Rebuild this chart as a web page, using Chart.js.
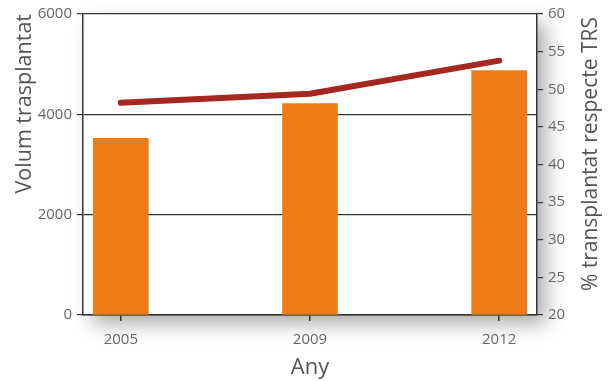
<!DOCTYPE html>
<html>
<head>
<meta charset="utf-8">
<script src="https://cdn.jsdelivr.net/npm/chart.js@4"></script>
<style>
  html, body { margin: 0; padding: 0; background: #fff; }
  #wrap { width: 611px; height: 381px; }
</style>
</head>
<body>
<div id="wrap"><canvas id="c" width="611" height="381"></canvas></div>
<script>
// Transplant volume per year and share relative to TRS
const years = ['2005', '2009', '2012'];
const volume = [3520, 4215, 4870];
const pctTRS = [48.2, 49.4, 53.8];
const volumeTicks = [0, 2000, 4000, 6000];
const pctTicks = [20, 25, 30, 35, 40, 45, 50, 55, 60];

const leftTitle = 'Volum trasplantat';
const rightTitle = '% transplantat respecte TRS';
const xTitle = 'Any';

const FONT = "'Open Sans', 'DejaVu Sans', sans-serif";
const TICK_COLOR = '#666666';
const TITLE_COLOR = '#555555';

// Soft drop shadow behind the plotting frame
const frameShadow = {
  id: 'frameShadow',
  beforeDraw(chart) {
    const { ctx, chartArea: a } = chart;
    ctx.save();
    ctx.fillStyle = '#ffffff';
    ctx.shadowColor = 'rgba(0,0,0,0.32)';
    ctx.shadowBlur = 18;
    ctx.shadowOffsetX = 9;
    ctx.shadowOffsetY = 9;
    ctx.fillRect(a.left, a.top, a.right - a.left, a.bottom - a.top);
    ctx.restore();
  }
};

// Right axis title, reading bottom-to-top like the left one
const rightAxisTitle = {
  id: 'rightAxisTitle',
  afterDraw(chart) {
    const { ctx, chartArea: a } = chart;
    ctx.save();
    ctx.translate(591, a.top + 3);
    ctx.rotate(-Math.PI / 2);
    ctx.font = '21px ' + FONT;
    ctx.fillStyle = TITLE_COLOR;
    ctx.textAlign = 'right';
    ctx.textBaseline = 'middle';
    ctx.fillText(rightTitle, 0, 0);
    ctx.restore();
  }
};

const pts = (arr) => arr.map((v, i) => ({ x: i, y: v }));

new Chart(document.getElementById('c'), {
  data: {
    datasets: [
      {
        type: 'line',
        data: pts(pctTRS),
        yAxisID: 'y2',
        borderColor: '#a52820',
        borderWidth: 6,
        borderCapStyle: 'round',
        borderJoinStyle: 'round',
        pointRadius: 0,
        tension: 0,
        order: 0
      },
      {
        type: 'bar',
        data: pts(volume),
        yAxisID: 'y',
        backgroundColor: '#ec7c13',
        barThickness: 55,
        order: 1
      }
    ]
  },
  options: {
    responsive: false,
    animation: false,
    devicePixelRatio: 1,
    layout: { padding: { top: 14, left: 0, right: 0, bottom: 0 } },
    plugins: { legend: { display: false }, tooltip: { enabled: false } },
    scales: {
      x: {
        type: 'linear',
        min: -0.2,
        max: 2.2,
        offset: false,
        afterBuildTicks(s) { s.ticks = years.map((_, i) => ({ value: i })); },
        afterFit(s) { s.height = 66; },
        ticks: {
          callback: (v) => years[v],
          color: TICK_COLOR,
          font: { family: FONT, size: 15 },
          padding: 10,
          maxRotation: 0
        },
        grid: { offset: false, drawOnChartArea: false, drawTicks: true, tickLength: 6, color: '#333333', lineWidth: 1.5 },
        border: { display: true, color: '#333333', width: 1.5 },
        title: {
          display: true,
          text: xTitle,
          color: TITLE_COLOR,
          font: { family: FONT, size: 22 },
          padding: { top: 0, bottom: 0 }
        }
      },
      y: {
        position: 'left',
        min: 0,
        max: 6000,
        afterBuildTicks(s) { s.ticks = volumeTicks.map(v => ({ value: v })); },
        afterFit(s) { s.width = 83; },
        ticks: {
          callback: (v) => String(v),
          color: TICK_COLOR,
          font: { family: FONT, size: 15 },
          padding: 5
        },
        grid: { color: '#333333', lineWidth: 1.2, tickLength: 6 },
        border: { display: true, color: '#333333', width: 1.5 },
        title: {
          display: true,
          text: leftTitle,
          align: 'end',
          color: TITLE_COLOR,
          font: { family: FONT, size: 21.5 },
          padding: { top: 12, bottom: 0 }
        }
      },
      y2: {
        position: 'right',
        min: 20,
        max: 60,
        afterBuildTicks(s) { s.ticks = pctTicks.map(v => ({ value: v })); },
        afterFit(s) { s.width = 74; },
        ticks: {
          callback: (v) => String(v),
          color: TICK_COLOR,
          font: { family: FONT, size: 15 },
          padding: 5
        },
        grid: { drawOnChartArea: false, color: '#333333', lineWidth: 1.2, tickLength: 6 },
        border: { display: true, color: '#333333', width: 1.5 }
      }
    }
  },
  plugins: [frameShadow, rightAxisTitle]
});
</script>
</body>
</html>
